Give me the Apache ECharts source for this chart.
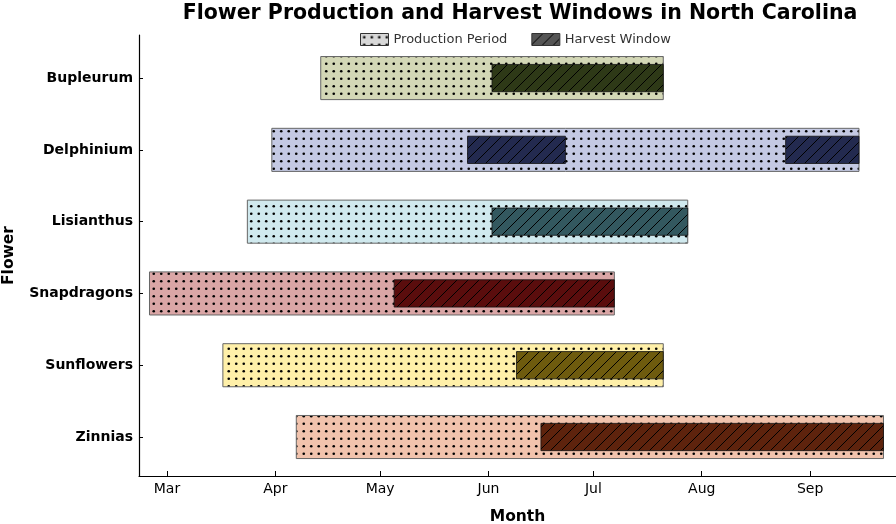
<!DOCTYPE html>
<html>
<head>
<meta charset="utf-8">
<script src="https://cdn.jsdelivr.net/npm/echarts@6/dist/echarts.min.js"></script>
<style>html,body{margin:0;padding:0;background:#fff}#c{width:896px;height:524px}</style>
</head>
<body>
<div id="c"></div>
<script>
const flowers = ['Bupleurum', 'Delphinium', 'Lisianthus', 'Snapdragons', 'Sunflowers', 'Zinnias'];
const productionStart = ['2023-04-14', '2023-03-31', '2023-03-24', '2023-02-24', '2023-03-17', '2023-04-07'];
const productionEnd   = ['2023-07-21', '2023-09-15', '2023-07-28', '2023-07-07', '2023-07-21', '2023-09-22'];
const harvestFlower = [0, 1, 1, 2, 3, 4, 5];
const harvestStart  = ['2023-06-02', '2023-05-26', '2023-08-25', '2023-06-02', '2023-05-05', '2023-06-09', '2023-06-16'];
const harvestEnd    = ['2023-07-21', '2023-06-23', '2023-09-15', '2023-07-28', '2023-07-07', '2023-07-21', '2023-09-22'];
const monthTicks  = ['2023-03-01', '2023-04-01', '2023-05-01', '2023-06-01', '2023-07-01', '2023-08-01', '2023-09-01'];
const monthLabels = ['Mar', 'Apr', 'May', 'Jun', 'Jul', 'Aug', 'Sep'];
const prodColors    = ['#d3d7b6', '#c4c9e3', '#d0e9ee', '#daa6a6', '#fff0a9', '#f1c3ad'];
const harvestColors = ['#2e3917', '#232a4f', '#33585f', '#5a0d0d', '#6e5b0e', '#5e230d'];

const ts = s => { const p = s.split('-').map(Number); return Date.UTC(p[0], p[1] - 1, p[2]); };
const FONT = 'DejaVu Sans';

function dotPattern(bg) {
  const c = document.createElement('canvas');
  c.width = 15; c.height = 15;
  const g = c.getContext('2d');
  g.fillStyle = bg; g.fillRect(0, 0, 15, 15);
  g.fillStyle = '#000';
  [[3.75, 3.75], [11.25, 3.75], [3.75, 11.25], [11.25, 11.25]].forEach(([x, y]) => {
    g.beginPath(); g.arc(x, y, 1.3, 0, Math.PI * 2); g.fill();
  });
  return { image: c, repeat: 'repeat' };
}
function hatchPattern(bg) {
  const n = 11;
  const c = document.createElement('canvas');
  c.width = n; c.height = n;
  const g = c.getContext('2d');
  g.fillStyle = bg; g.fillRect(0, 0, n, n);
  g.strokeStyle = '#000'; g.lineWidth = 1;
  g.beginPath();
  g.moveTo(0, n); g.lineTo(n, 0);
  g.moveTo(-n, n); g.lineTo(n, -n);
  g.moveTo(0, 2 * n); g.lineTo(2 * n, 0);
  g.stroke();
  return { image: c, repeat: 'repeat' };
}
const prodPatterns = prodColors.map(dotPattern);
const harvestPatterns = harvestColors.map(hatchPattern);

const prodData = flowers.map((f, i) => [ts(productionStart[i]), ts(productionEnd[i]), i]);
const harvestData = harvestFlower.map((fi, i) => [ts(harvestStart[i]), ts(harvestEnd[i]), fi]);

function makeRender(height, patterns, stroke, lw) {
  return function (params, api) {
    const cat = api.value(2);
    const p0 = api.coord([api.value(0), cat]);
    const p1 = api.coord([api.value(1), cat]);
    const h = Math.abs(api.size([0, height])[1]);
    return {
      type: 'rect',
      shape: { x: p0[0], y: p0[1] - h / 2, width: p1[0] - p0[0], height: h },
      style: { fill: patterns[cat], stroke: stroke, lineWidth: lw }
    };
  };
}

const chart = echarts.init(document.getElementById('c'), null, { renderer: 'canvas' });
chart.setOption({
  animation: false,
  backgroundColor: '#fff',
  textStyle: { fontFamily: FONT },
  title: {
    text: 'Flower Production and Harvest Windows in North Carolina',
    left: 515, textAlign: 'center', top: -2,
    textStyle: { fontFamily: FONT, fontWeight: 'bold', fontSize: 20.5, color: '#000' }
  },
  legend: {
    left: 355, top: 28,
    itemWidth: 28, itemHeight: 12, itemGap: 24,
    textStyle: { fontFamily: FONT, fontSize: 13, color: '#333' },
    data: [
      { name: 'Production Period', icon: 'rect', itemStyle: { color: dotPattern('#d8d8d8'), borderColor: '#333', borderWidth: 1 } },
      { name: 'Harvest Window', icon: 'rect', itemStyle: { color: hatchPattern('#555555'), borderColor: '#333', borderWidth: 1 } }
    ]
  },
  grid: { left: 139, right: 0, top: 35, bottom: 48, containLabel: false, outerBoundsMode: 'none' },
  xAxis: {
    type: 'value',
    min: ts('2023-02-21'), max: ts('2023-09-25') + 14 * 3600e3,
    name: 'Month', nameLocation: 'middle', nameGap: 33,
    nameTextStyle: { fontFamily: FONT, fontWeight: 'bold', fontSize: 15.5, color: '#000' },
    axisLine: { onZero: false, lineStyle: { color: '#000', width: 1.2 } },
    axisTick: { inside: true, length: 5, lineStyle: { color: '#000' }, customValues: monthTicks.map(ts) },
    axisLabel: {
      customValues: monthTicks.map(ts), margin: 6,
      fontFamily: FONT, fontSize: 14, color: '#000',
      formatter: v => { const i = monthTicks.map(ts).indexOf(v); return i >= 0 ? monthLabels[i] : ''; }
    },
    splitLine: { show: false }
  },
  yAxis: {
    type: 'value', inverse: true,
    min: -0.6, max: 5.543,
    name: 'Flower', nameLocation: 'middle', nameGap: 122, nameRotate: 90,
    nameTextStyle: { fontFamily: FONT, fontWeight: 'bold', fontSize: 15.5, color: '#000' },
    axisLine: { show: true, onZero: false, lineStyle: { color: '#000', width: 1.2 } },
    axisTick: { show: true, inside: true, length: 4, lineStyle: { color: '#000' }, customValues: [0, 1, 2, 3, 4, 5] },
    axisLabel: {
      customValues: [0, 1, 2, 3, 4, 5], margin: 6,
      fontFamily: FONT, fontSize: 14, fontWeight: 'bold', color: '#000',
      formatter: v => flowers[v]
    },
    splitLine: { show: false }
  },
  series: [
    {
      name: 'Production Period', type: 'custom',
      renderItem: makeRender(0.6, prodPatterns, '#666', 1),
      encode: { x: [0, 1], y: 2 },
      data: prodData
    },
    {
      name: 'Harvest Window', type: 'custom',
      renderItem: makeRender(0.38, harvestPatterns, '#111', 0.8),
      encode: { x: [0, 1], y: 2 },
      data: harvestData
    }
  ]
});
</script>
</body>
</html>
